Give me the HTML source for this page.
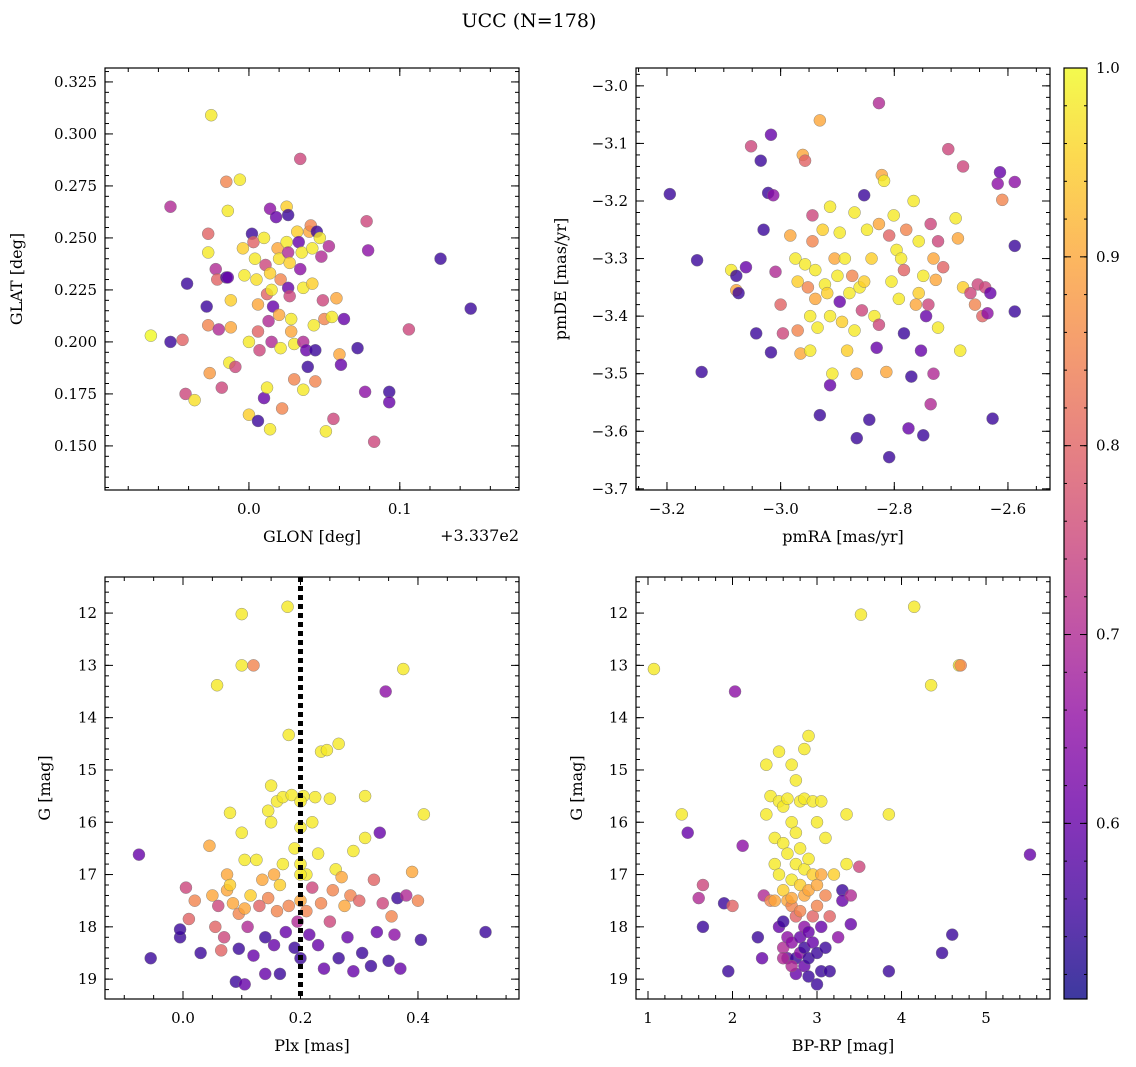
<!DOCTYPE html>
<html><head><meta charset="utf-8"><style>
body{margin:0;background:#fff}
svg{display:block}
text{font-family:"DejaVu Serif","Liberation Serif",serif;fill:#000}
</style></head><body>
<svg id="fig" width="1136" height="1067" viewBox="0 0 1136 1067" xmlns="http://www.w3.org/2000/svg">
<text x="529" y="27" font-size="19" text-anchor="middle">UCC (N=178)</text>
</svg>
<script>
// ---- data (value arrays) ----
const glonOff = [-0.065,-0.052,-0.052,-0.041,-0.042,-0.044,-0.036,-0.025,-0.027,-0.027,-0.028,-0.027,-0.026,-0.022,-0.021,-0.02,-0.018,-0.015,-0.014,-0.015,-0.014,-0.012,-0.012,-0.013,-0.009,-0.006,-0.004,-0.003,0.0,0.0,0.002,0.003,0.004,0.005,0.006,0.006,0.007,0.006,0.01,0.011,0.012,0.013,0.01,0.012,0.014,0.014,0.015,0.016,0.015,0.014,0.018,0.019,0.02,0.021,0.02,0.021,0.022,0.025,0.026,0.025,0.026,0.027,0.026,0.027,0.028,0.028,0.03,0.03,0.032,0.033,0.034,0.035,0.036,0.036,0.036,0.034,0.038,0.039,0.04,0.041,0.042,0.042,0.043,0.044,0.044,0.045,0.047,0.048,0.049,0.05,0.051,0.053,0.055,0.056,0.058,0.06,0.061,0.063,0.072,0.078,0.079,0.077,0.083,0.093,0.093,0.106,0.127,0.147];
const glat = [0.203,0.265,0.200,0.228,0.175,0.201,0.172,0.309,0.252,0.243,0.217,0.208,0.185,0.235,0.230,0.206,0.178,0.277,0.263,0.231,0.231,0.220,0.207,0.190,0.188,0.278,0.245,0.232,0.200,0.165,0.252,0.248,0.240,0.230,0.218,0.205,0.196,0.162,0.250,0.237,0.223,0.210,0.173,0.178,0.264,0.233,0.225,0.217,0.200,0.158,0.260,0.245,0.240,0.230,0.213,0.197,0.168,0.265,0.261,0.248,0.243,0.238,0.226,0.222,0.211,0.205,0.199,0.182,0.253,0.248,0.235,0.243,0.226,0.200,0.177,0.288,0.196,0.188,0.253,0.256,0.245,0.228,0.208,0.196,0.181,0.253,0.250,0.241,0.220,0.211,0.157,0.246,0.212,0.163,0.221,0.194,0.189,0.211,0.197,0.258,0.244,0.176,0.152,0.176,0.171,0.206,0.240,0.216];
const probA = [1.0,0.7,0.55,0.55,0.75,0.8,0.97,0.98,0.8,0.98,0.55,0.85,0.88,0.7,0.8,0.7,0.75,0.85,0.98,0.55,0.6,0.95,0.9,0.98,0.75,0.98,0.95,0.98,0.98,0.95,0.55,0.8,0.98,0.97,0.9,0.8,0.75,0.55,0.98,0.75,0.8,0.7,0.6,0.98,0.65,0.95,0.98,0.6,0.7,0.98,0.6,0.9,0.97,0.85,0.9,0.98,0.85,0.95,0.55,0.98,0.7,0.95,0.6,0.75,0.98,0.9,0.98,0.85,0.95,0.6,0.65,0.98,0.98,0.7,0.98,0.75,0.6,0.55,0.9,0.85,0.98,0.95,0.98,0.55,0.85,0.55,0.98,0.7,0.75,0.85,0.98,0.7,0.98,0.75,0.9,0.9,0.6,0.6,0.55,0.75,0.65,0.65,0.75,0.55,0.6,0.75,0.55,0.55];

const pmra = [-3.195,-3.147,-3.139,-3.087,-3.078,-3.078,-3.074,-3.061,-3.052,-3.035,-3.030,-3.022,-3.017,-3.017,-3.013,-3.009,-3.000,-2.996,-3.043,-2.983,-2.974,-2.970,-2.970,-2.965,-2.961,-2.957,-2.957,-2.952,-2.948,-2.948,-2.944,-2.944,-2.939,-2.939,-2.935,-2.931,-2.931,-2.926,-2.922,-2.918,-2.913,-2.913,-2.913,-2.909,-2.905,-2.900,-2.896,-2.896,-2.892,-2.887,-2.883,-2.879,-2.874,-2.870,-2.870,-2.866,-2.866,-2.861,-2.857,-2.853,-2.853,-2.848,-2.844,-2.840,-2.835,-2.831,-2.827,-2.827,-2.822,-2.818,-2.814,-2.809,-2.809,-2.805,-2.801,-2.796,-2.792,-2.788,-2.783,-2.779,-2.775,-2.770,-2.766,-2.762,-2.757,-2.757,-2.753,-2.749,-2.749,-2.744,-2.740,-2.736,-2.736,-2.731,-2.731,-2.727,-2.723,-2.723,-2.714,-2.705,-2.692,-2.688,-2.684,-2.679,-2.679,-2.666,-2.658,-2.653,-2.645,-2.640,-2.636,-2.631,-2.618,-2.610,-2.614,-2.588,-2.588,-2.588,-2.627,-2.783,-2.827];
const pmde = [-3.188,-3.303,-3.497,-3.32,-3.33,-3.355,-3.36,-3.315,-3.105,-3.13,-3.25,-3.186,-3.463,-3.085,-3.19,-3.323,-3.38,-3.43,-3.43,-3.26,-3.30,-3.34,-3.425,-3.465,-3.12,-3.13,-3.31,-3.35,-3.40,-3.46,-3.27,-3.225,-3.32,-3.37,-3.42,-3.572,-3.06,-3.25,-3.345,-3.36,-3.40,-3.52,-3.21,-3.50,-3.30,-3.33,-3.255,-3.375,-3.41,-3.30,-3.46,-3.36,-3.33,-3.425,-3.22,-3.50,-3.612,-3.35,-3.39,-3.34,-3.19,-3.25,-3.58,-3.30,-3.40,-3.455,-3.415,-3.03,-3.155,-3.165,-3.497,-3.26,-3.645,-3.34,-3.225,-3.285,-3.37,-3.30,-3.32,-3.25,-3.595,-3.505,-3.20,-3.38,-3.27,-3.36,-3.46,-3.33,-3.607,-3.40,-3.38,-3.24,-3.553,-3.50,-3.30,-3.337,-3.27,-3.42,-3.315,-3.11,-3.23,-3.265,-3.46,-3.14,-3.35,-3.36,-3.38,-3.345,-3.40,-3.35,-3.395,-3.36,-3.17,-3.198,-3.15,-3.167,-3.278,-3.392,-3.578,-3.43,-3.24];
const probB = [0.55,0.55,0.55,0.98,0.55,0.9,0.55,0.6,0.75,0.55,0.55,0.55,0.55,0.6,0.65,0.7,0.8,0.75,0.55,0.9,0.98,0.95,0.85,0.9,0.9,0.8,0.98,0.85,0.98,0.98,0.85,0.75,0.98,0.9,0.98,0.55,0.9,0.95,0.98,0.95,0.98,0.6,0.98,0.98,0.9,0.98,0.98,0.6,0.95,0.98,0.95,0.98,0.85,0.98,0.98,0.9,0.55,0.98,0.75,0.95,0.55,0.98,0.55,0.95,0.98,0.6,0.75,0.7,0.9,0.98,0.9,0.8,0.55,0.98,0.98,0.98,0.98,0.98,0.8,0.85,0.6,0.55,0.98,0.9,0.98,0.95,0.6,0.98,0.55,0.6,0.75,0.75,0.7,0.7,0.9,0.9,0.75,0.98,0.8,0.75,0.98,0.9,0.98,0.75,0.95,0.75,0.85,0.75,0.8,0.75,0.65,0.6,0.65,0.85,0.6,0.65,0.55,0.55,0.55,0.55,0.9];

const plx = [-0.075,-0.055,-0.005,-0.005,0.005,0.01,0.02,0.03,0.045,0.05,0.055,0.058,0.06,0.065,0.07,0.075,0.075,0.08,0.08,0.085,0.09,0.095,0.095,0.1,0.1,0.1,0.105,0.105,0.105,0.11,0.115,0.12,0.12,0.125,0.13,0.135,0.14,0.14,0.145,0.145,0.15,0.15,0.155,0.155,0.16,0.16,0.165,0.165,0.17,0.17,0.175,0.178,0.18,0.18,0.185,0.19,0.19,0.195,0.2,0.2,0.2,0.2,0.205,0.21,0.21,0.215,0.22,0.22,0.225,0.23,0.23,0.235,0.235,0.24,0.245,0.25,0.25,0.255,0.26,0.265,0.265,0.27,0.275,0.28,0.285,0.29,0.29,0.3,0.305,0.31,0.31,0.32,0.325,0.33,0.335,0.34,0.345,0.35,0.355,0.36,0.365,0.37,0.375,0.38,0.39,0.4,0.405,0.41,0.515,0.2,0.2];
const gmagC = [16.62,18.6,18.2,18.05,17.25,17.85,17.5,18.5,16.45,17.4,18.0,13.38,17.6,18.45,18.2,17.3,17.0,17.2,15.82,17.55,19.05,17.75,18.42,12.02,13.0,16.2,17.65,16.72,19.1,18.0,17.4,13.0,18.55,16.72,17.6,17.1,18.2,18.9,15.78,17.45,15.3,16.0,17.0,18.35,15.6,17.7,17.2,18.9,16.8,15.52,18.1,11.88,14.33,17.6,15.48,16.5,18.4,17.9,16.1,16.8,17.5,18.6,15.5,17.0,17.7,18.15,16.0,17.25,15.52,16.6,18.35,14.65,17.55,18.8,14.62,15.55,17.9,17.3,16.9,14.5,18.6,17.05,17.6,18.2,17.4,18.85,16.55,17.5,18.5,15.5,16.3,18.75,17.1,18.1,16.2,17.55,13.5,18.65,17.8,18.15,17.45,18.8,13.07,17.4,16.95,17.5,18.25,15.85,18.1,17.0,15.6];
const probC = [0.6,0.55,0.55,0.55,0.75,0.8,0.85,0.55,0.9,0.9,0.8,0.98,0.75,0.8,0.75,0.9,0.9,0.95,0.98,0.9,0.55,0.85,0.55,0.98,0.98,0.98,0.9,0.98,0.6,0.7,0.95,0.85,0.6,0.98,0.8,0.9,0.55,0.6,0.98,0.85,0.98,0.98,0.9,0.6,0.98,0.85,0.95,0.55,0.98,0.98,0.6,0.98,0.98,0.85,0.98,0.98,0.55,0.7,0.98,0.98,0.9,0.55,0.98,0.98,0.85,0.6,0.98,0.75,0.98,0.98,0.6,0.98,0.85,0.6,0.98,0.98,0.75,0.85,0.98,0.98,0.55,0.9,0.9,0.6,0.85,0.6,0.98,0.8,0.55,0.98,0.98,0.55,0.8,0.6,0.6,0.75,0.65,0.55,0.85,0.65,0.55,0.6,0.98,0.7,0.9,0.85,0.55,0.98,0.55,0.98,0.98];

const bprp = [1.07,1.4,1.47,1.6,1.65,1.65,1.9,1.95,2.0,2.03,2.12,2.3,2.35,2.37,2.4,2.4,2.45,2.45,2.5,2.5,2.5,2.55,2.55,2.55,2.55,2.6,2.6,2.6,2.6,2.6,2.65,2.65,2.65,2.65,2.65,2.7,2.7,2.7,2.7,2.7,2.75,2.75,2.75,2.75,2.75,2.75,2.8,2.8,2.8,2.8,2.8,2.8,2.85,2.85,2.85,2.85,2.85,2.85,2.85,2.9,2.9,2.9,2.9,2.9,2.9,2.95,2.95,2.95,2.95,3.0,3.0,3.0,3.0,3.0,3.05,3.05,3.05,3.05,3.1,3.1,3.1,3.15,3.15,3.2,3.25,3.3,3.3,3.35,3.35,3.4,3.4,3.5,3.52,3.85,3.85,4.15,4.35,4.48,4.6,4.68,4.7,5.52,2.7,2.6,2.7];
const gmagD = [13.07,15.85,16.2,17.45,17.2,18.0,17.55,18.85,17.6,13.5,16.45,18.2,18.6,17.4,15.85,14.9,15.5,17.5,16.3,16.8,17.5,14.65,15.6,17.0,18.0,15.7,16.4,17.3,17.9,18.4,15.55,16.6,17.5,18.2,18.6,14.9,16.0,17.1,17.6,18.3,15.2,16.2,16.8,17.8,18.6,18.9,15.6,16.5,17.2,17.7,18.2,18.5,14.6,15.55,16.9,17.4,18.0,18.4,18.75,14.35,16.7,17.3,18.1,18.6,18.95,15.6,17.0,17.8,18.3,16.0,17.2,17.6,18.5,19.1,15.6,17.0,18.0,18.85,16.3,17.4,18.4,17.8,18.85,17.0,18.2,17.3,17.5,16.8,15.85,17.4,17.95,16.85,12.03,15.85,18.85,11.88,13.38,18.5,18.15,13.0,13.0,16.62,18.75,18.6,17.45];
const probD = [0.98,0.98,0.6,0.7,0.75,0.55,0.55,0.55,0.8,0.65,0.65,0.55,0.6,0.7,0.98,0.98,0.98,0.85,0.98,0.98,0.9,0.98,0.98,0.98,0.6,0.98,0.98,0.95,0.55,0.7,0.98,0.98,0.9,0.65,0.6,0.98,0.98,0.98,0.85,0.65,0.98,0.98,0.98,0.8,0.55,0.6,0.98,0.98,0.95,0.85,0.6,0.65,0.98,0.98,0.98,0.9,0.65,0.55,0.6,0.98,0.98,0.9,0.6,0.55,0.55,0.98,0.95,0.8,0.6,0.98,0.9,0.85,0.55,0.55,0.98,0.9,0.6,0.55,0.98,0.85,0.55,0.8,0.55,0.95,0.65,0.55,0.6,0.98,0.98,0.7,0.6,0.75,0.98,0.98,0.55,0.98,0.98,0.55,0.55,0.98,0.85,0.6,0.7,0.7,0.9];

const cbTicks = [0.6,0.7,0.8,0.9,1.0];
const vmin = 0.507, vmax = 1.0;

// ---- helpers ----
const NS = "http://www.w3.org/2000/svg";
const fig = document.getElementById('fig');
function mk(tag, attrs, parent){const e=document.createElementNS(NS,tag);for(const k in attrs)e.setAttribute(k,attrs[k]);(parent||fig).appendChild(e);return e;}
const plasma=[[13,8,135],[65,4,157],[106,0,168],[143,13,164],[177,42,144],[204,71,120],[225,100,98],[242,132,75],[252,166,54],[252,206,37],[240,249,33]];
function cmap(v){let t=(v-vmin)/(vmax-vmin);t=Math.max(0,Math.min(1,t))*10;const i=Math.min(9,Math.floor(t)),f=t-i;const a=plasma[i],b=plasma[i+1];return `rgb(${Math.round(a[0]+(b[0]-a[0])*f)},${Math.round(a[1]+(b[1]-a[1])*f)},${Math.round(a[2]+(b[2]-a[2])*f)})`;}
function fmt(v,d){return v.toFixed(d).replace('-','\u2212');}

function panel(o){
  const g=mk('g',{});
  
  
  const X=v=>o.x0+(v-o.xmin)/(o.xmax-o.xmin)*(o.x1-o.x0);
  const Y=v=>o.yinv? o.y0+(v-o.ymin)/(o.ymax-o.ymin)*(o.y1-o.y0) : o.y1-(v-o.ymin)/(o.ymax-o.ymin)*(o.y1-o.y0);
  for(let i=0;i<o.xs.length;i++){
    const c=mk('circle',{cx:X(o.xs[i]),cy:Y(o.ys[i]),r:6,fill:cmap(o.ps[i]),'fill-opacity':0.8,stroke:'#777','stroke-width':0.5,'stroke-opacity':0.8},g);
    
    
  }
  if(o.extra) o.extra(g,X,Y);
  const tk=(vals,len,lab,dec,axis)=>{
    vals.forEach(v=>{
      if(axis==='x'){const x=X(v);if(x<o.x0-0.5||x>o.x1+0.5)return;
        mk('line',{x1:x,x2:x,y1:o.y1,y2:o.y1-len,stroke:'#000','stroke-width':1},g);
        mk('line',{x1:x,x2:x,y1:o.y0,y2:o.y0+len,stroke:'#000','stroke-width':1},g);
        if(lab){const t=mk('text',{x:x,y:o.y1+24,'font-size':15,'text-anchor':'middle'},g);t.textContent=fmt(v,dec);}
      } else {const y=Y(v);if(y<o.y0-0.5||y>o.y1+0.5)return;
        mk('line',{y1:y,y2:y,x1:o.x0,x2:o.x0+len,stroke:'#000','stroke-width':1},g);
        mk('line',{y1:y,y2:y,x1:o.x1,x2:o.x1-len,stroke:'#000','stroke-width':1},g);
        if(lab){const t=mk('text',{x:o.x0-8,y:y+5,'font-size':15,'text-anchor':'end'},g);t.textContent=fmt(v,dec);}
      }
    });
  };
  const rng=(a,b,s)=>{const r=[];for(let v=Math.ceil(a/s-1e-9)*s;v<=b+1e-9;v+=s)r.push(Math.round(v/s)*s);return r;};
  tk(rng(o.xmin,o.xmax,o.xminor),4,false,0,'x');
  tk(o.xticks,8,true,o.xdec,'x');
  tk(rng(o.ymin,o.ymax,o.yminor),4,false,0,'y');
  tk(o.yticks,8,true,o.ydec,'y');
  const fr=mk('rect',{x:o.x0,y:o.y0,width:o.x1-o.x0,height:o.y1-o.y0,fill:'none',stroke:'#000','stroke-width':1.2},g);
  
  const xl=mk('text',{x:(o.x0+o.x1)/2,y:o.y1+52,'font-size':16,'text-anchor':'middle'},g);xl.textContent=o.xlabel;
  
  const yx=o.ylx, yy=(o.y0+o.y1)/2;
  const yl=mk('text',{x:yx,y:yy,'font-size':16,'text-anchor':'middle',transform:`rotate(-90 ${yx} ${yy})`},g);yl.textContent=o.ylabel;
  
  return g;
}

panel({name:'glon-glat-panel',xs:glonOff,ys:glat,ps:probA,x0:105,x1:519,y0:68,y1:490,xmin:-0.0954,xmax:0.179,ymin:0.1288,ymax:0.3317,
  xticks:[0.0,0.1],xdec:1,xminor:0.02,yticks:[0.150,0.175,0.200,0.225,0.250,0.275,0.300,0.325],ydec:3,yminor:0.005,xlabel:'GLON [deg]',ylabel:'GLAT [deg]',ylx:22});
const off=mk('text',{x:519,y:541,'font-size':16,'text-anchor':'end'});off.textContent='+3.337e2';



panel({name:'proper-motion-panel',xs:pmra,ys:pmde,ps:probB,x0:636,x1:1050,y0:68,y1:490,xmin:-3.2545,xmax:-2.526,ymin:-3.702,ymax:-2.969,
  xticks:[-3.2,-3.0,-2.8,-2.6],xdec:1,xminor:0.05,yticks:[-3.0,-3.1,-3.2,-3.3,-3.4,-3.5,-3.6,-3.7],ydec:1,yminor:0.02,xlabel:'pmRA [mas/yr]',ylabel:'pmDE [mas/yr]',ylx:566});

panel({name:'plx-g-panel',xs:plx,ys:gmagC,ps:probC,x0:105,x1:519,y0:577,y1:999,xmin:-0.1328,xmax:0.572,ymin:11.31,ymax:19.38,yinv:true,
  xticks:[0.0,0.2,0.4],xdec:1,xminor:0.05,yticks:[12,13,14,15,16,17,18,19],ydec:0,yminor:0.2,xlabel:'Plx [mas]',ylabel:'G [mag]',ylx:50,
  extra:(g,X,Y)=>{const l=mk('line',{x1:X(0.2),x2:X(0.2),y1:577,y2:999,stroke:'#000','stroke-width':5,'stroke-dasharray':'5 4'},g);
    }});

panel({name:'cmd-panel',xs:bprp,ys:gmagD,ps:probD,x0:636,x1:1050,y0:577,y1:999,xmin:0.858,xmax:5.757,ymin:11.31,ymax:19.38,yinv:true,
  xticks:[1,2,3,4,5],xdec:0,xminor:0.2,yticks:[12,13,14,15,16,17,18,19],ydec:0,yminor:0.2,xlabel:'BP-RP [mag]',ylabel:'G [mag]',ylx:582});

// colorbar
const cb=mk('g',{});


const defs=mk('defs',{},cb);
const lg=mk('linearGradient',{id:'cbg',x1:0,y1:1,x2:0,y2:0},defs);
for(let i=0;i<=10;i++){const c=plasma[i];mk('stop',{offset:i/10,'stop-color':`rgb(${c[0]},${c[1]},${c[2]})`,'stop-opacity':0.8},lg);}
const cx0=1064,cx1=1087,cy0=68,cy1=999;
mk('rect',{x:cx0,y:cy0,width:cx1-cx0,height:cy1-cy0,fill:'url(#cbg)'},cb);
const CY=v=>cy1-(v-vmin)/(vmax-vmin)*(cy1-cy0);
for(let v=0.52;v<=1.0001;v+=0.02){const y=CY(v);mk('line',{x1:cx1,x2:cx1-3,y1:y,y2:y,stroke:'#000'},cb);mk('line',{x1:cx0,x2:cx0+3,y1:y,y2:y,stroke:'#000'},cb);}
cbTicks.forEach(v=>{const y=CY(v);mk('line',{x1:cx1,x2:cx1-7,y1:y,y2:y,stroke:'#000'},cb);mk('line',{x1:cx0,x2:cx0+7,y1:y,y2:y,stroke:'#000'},cb);
  const t=mk('text',{x:cx1+9,y:y+5,'font-size':15},cb);t.textContent=v.toFixed(1);
  
  });
mk('rect',{x:cx0,y:cy0,width:cx1-cx0,height:cy1-cy0,fill:'none',stroke:'#000','stroke-width':1.2},cb);
</script>
</body></html>
